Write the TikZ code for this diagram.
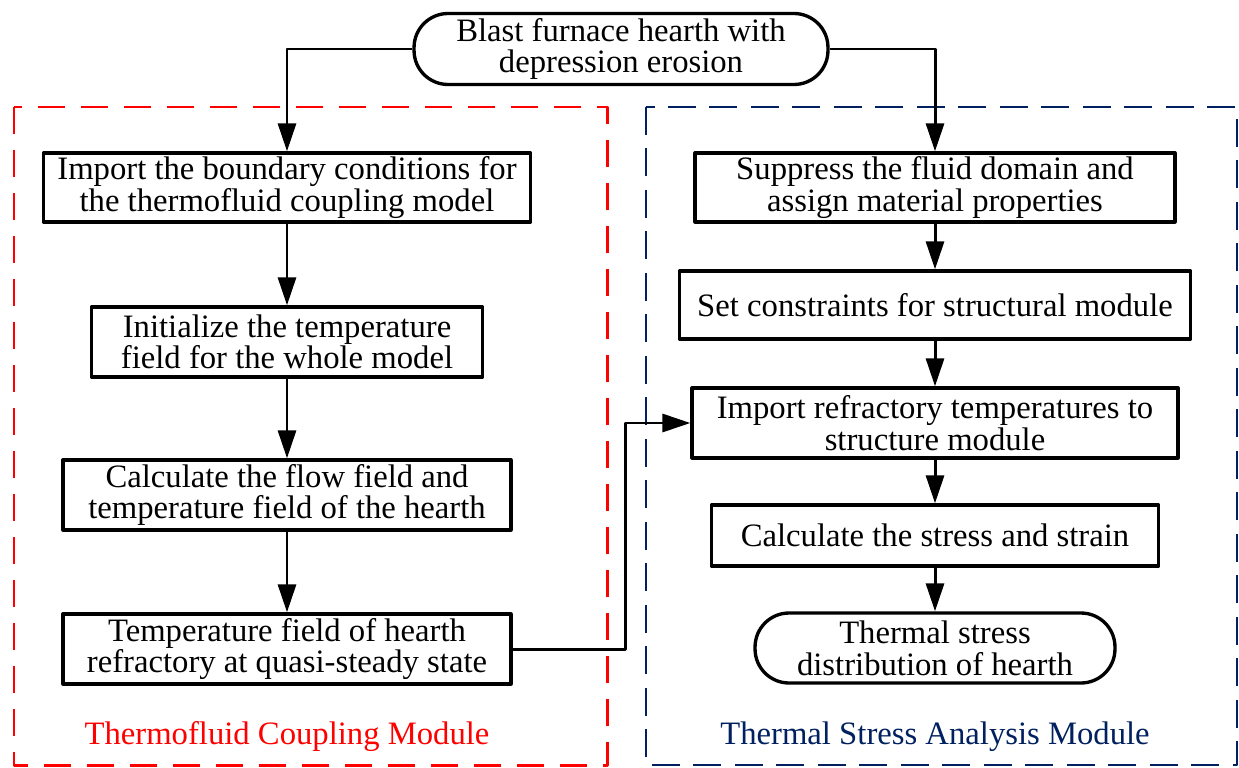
\documentclass[tikz,border=0pt]{standalone}
\usepackage{fontspec}
\setmainfont{Liberation Serif}
\usetikzlibrary{arrows.meta,positioning,calc}
\definecolor{hfRed}{RGB}{255,0,0}
\definecolor{hfNavy}{RGB}{0,32,96}
\tikzset{
  procbox/.style={draw=black, line width=1.9pt, rectangle, align=center, inner sep=0pt,
    font=\fontsize{18.6}{18}\selectfont},
  termbox/.style={procbox, rounded corners=0.68cm},
  flowarrow/.style={draw=black, line width=1.7pt, -{Triangle[length=0.56cm,width=0.36cm]}},
  modframe/.style={line width=1.7pt},
  modlabel/.style={font=\fontsize{18.6}{18}\selectfont, inner sep=0pt}
}

\begin{document}
\begin{tikzpicture}[x=0.02cm, y=-0.02cm, line join=round]
        \useasboundingbox (0,0) rectangle (1239,767);
        % module frames
        \draw[modframe, hfRed, dash pattern=on 0.54cm off 0.32cm] (14,107) rectangle (607,765);
        \draw[modframe, hfNavy, line width=1.5pt, dash pattern=on 0.56cm off 0.27cm] (646,107) rectangle (1237,765);
        \node[modlabel, text=hfRed] (lblThermo) at (287,737) {Thermofluid Coupling Module};
        \node[modlabel, text=hfNavy] (lblStress) at (935,737) {Thermal Stress Analysis Module};
        % start
        \node[termbox, minimum width=8.28cm, minimum height=1.42cm] (hearth) at (621,49)
            {Blast furnace hearth with\\depression erosion};
        % thermofluid side
        \node[procbox, minimum width=9.74cm, minimum height=1.38cm] (bcImport) at (287,187.5)
            {Import the boundary conditions for\\the thermofluid coupling model};
        \node[procbox, minimum width=7.82cm, minimum height=1.40cm] (tInit) at (287,342)
            {Initialize the temperature\\field for the whole model};
        \node[procbox, minimum width=8.96cm, minimum height=1.40cm] (flowCalc) at (287,495)
            {Calculate the flow field and\\temperature field of the hearth};
        \node[procbox, minimum width=8.96cm, minimum height=1.40cm] (tField) at (287,649)
            {Temperature field of hearth\\refractory at quasi-steady state};
        % stress side
        \node[procbox, minimum width=9.60cm, minimum height=1.38cm] (suppress) at (935,187.5)
            {Suppress the fluid domain and\\assign material properties};
        \node[procbox, minimum width=10.22cm, minimum height=1.36cm] (constr) at (935,305)
            {Set constraints for structural module};
        \node[procbox, minimum width=9.72cm, minimum height=1.40cm] (tImport) at (935,423)
            {Import refractory temperatures to\\structure module};
        \node[procbox, minimum width=8.94cm, minimum height=1.22cm] (stressCalc) at (935,535.5)
            {Calculate the stress and strain};
        \node[termbox, minimum width=7.20cm, minimum height=1.40cm] (stressOut) at (935,648)
            {Thermal stress\\distribution of hearth};
        % connectors
        \draw[flowarrow] (hearth.west) -| (bcImport.north);
        \draw[flowarrow] (hearth.east) -| (suppress.north);
        \draw[flowarrow] (bcImport) -- (tInit);
        \draw[flowarrow] (tInit) -- (flowCalc);
        \draw[flowarrow] (flowCalc) -- (tField);
        \draw[flowarrow] (suppress) -- (constr);
        \draw[flowarrow] (constr) -- (tImport);
        \draw[flowarrow] (tImport) -- (stressCalc);
        \draw[flowarrow] (stressCalc) -- (stressOut);
        \coordinate (bend) at (625,649);
        \draw[flowarrow] (tField.east) -- (bend) |- (tImport.west);
    \end{tikzpicture}
\end{document}
